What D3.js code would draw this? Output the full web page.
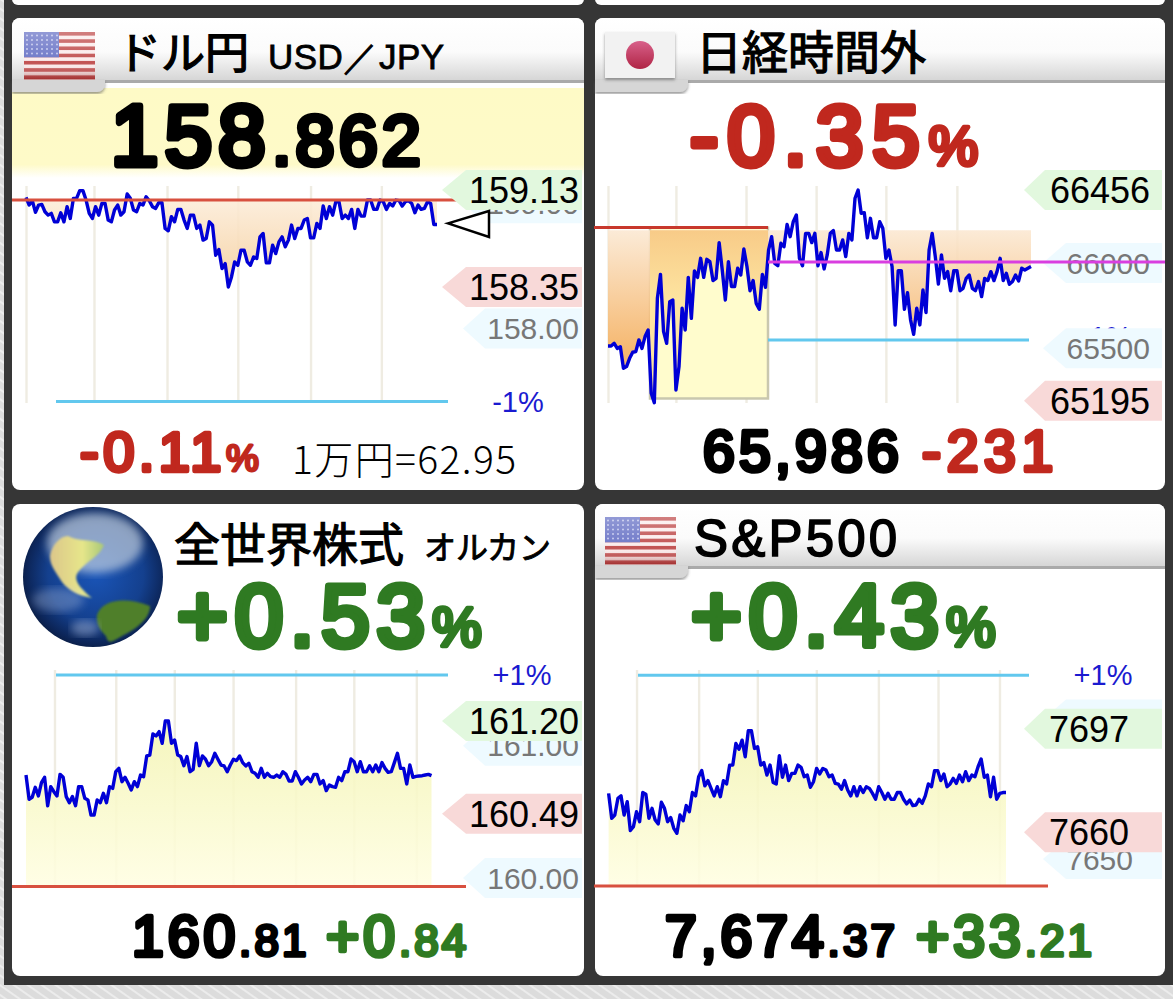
<!DOCTYPE html>
<html>
<head>
<meta charset="utf-8">
<script src="https://cdn.jsdelivr.net/npm/d3@7"></script>
<style>
  html, body { margin: 0; padding: 0; background: #ddd; }
  svg { display: block; }
  text { font-family: "Liberation Sans", sans-serif; }
</style>
</head>
<body>
<svg id="chart" width="1173" height="999"></svg>
<script>
const usdValues = [159.071,159.009,159.044,158.950,159.009,159.014,158.955,158.928,158.942,158.874,158.874,158.947,158.874,158.996,158.901,159.063,159.063,159.125,159.125,159.049,158.942,158.901,158.996,158.928,159.022,159.022,158.888,158.874,158.969,159.009,158.928,158.955,159.098,159.063,158.969,158.955,159.022,159.009,159.076,159.044,158.996,158.982,159.028,159.028,158.821,158.802,158.915,158.874,158.974,158.974,158.888,158.821,158.928,158.928,158.821,158.848,158.727,158.740,158.874,158.848,158.605,158.651,158.498,158.538,158.350,158.431,158.552,158.525,158.646,158.646,158.552,158.525,158.592,158.579,158.753,158.780,158.544,158.544,158.686,158.619,158.713,158.753,158.673,158.727,158.848,158.740,158.821,158.821,158.888,158.901,158.745,158.745,158.861,158.821,159.001,158.901,158.996,158.928,159.036,159.036,158.901,158.928,158.901,158.974,158.821,158.974,158.920,158.920,159.049,159.049,158.974,158.974,159.049,159.036,158.974,159.022,159.001,159.049,159.044,159.001,159.036,159.044,159.022,158.947,159.009,158.974,158.982,159.036,159.022,158.853,158.853];
const nikkeiValues = [65531,65531,65547,65517,65527,65399,65409,65458,65494,65498,65567,65517,65587,65626,65251,65195,65814,65956,65616,65547,65794,65804,65270,65409,65755,65626,65938,65695,65976,65938,66051,65938,66045,66031,65919,65932,66144,65982,65804,66031,65883,65883,65992,65952,66106,66002,65859,65919,65784,65749,65956,65879,66100,66179,66021,66007,66140,66120,66252,66179,66268,66308,66051,66007,66199,66199,66144,66199,66007,66085,65988,66071,66199,66215,66100,66100,66160,66061,66199,66160,66407,66456,66318,66322,66173,66288,66173,66173,66268,66229,66051,66100,66002,65656,65978,65978,65749,65847,65685,65600,65755,65656,65863,65729,66100,66199,66061,65899,66071,65932,65972,65859,65978,65978,65859,65873,65932,65952,65873,65859,65913,65824,65932,65919,65972,65919,65972,66051,65919,65962,65897,65913,65952,65917,65992,65982,65992,66002];
const globalValues = [160.795,160.613,160.628,160.703,160.638,160.738,160.778,160.565,160.708,160.67,160.638,160.80,160.778,160.633,160.588,160.633,160.565,160.708,160.708,160.62,160.608,160.495,160.495,160.608,160.588,160.658,160.588,160.708,160.695,160.82,160.845,160.745,160.778,160.733,160.683,160.745,160.708,160.795,160.783,160.938,160.945,161.103,161.088,161.12,161.033,161.2,161.2,161.033,161.058,160.945,160.933,160.865,160.933,160.82,160.838,161.033,160.865,160.938,160.913,160.865,160.895,160.958,160.913,160.87,160.863,160.82,160.87,160.913,160.903,160.938,160.888,160.863,160.883,160.82,160.808,160.778,160.845,160.778,160.808,160.783,160.778,160.795,160.778,160.82,160.80,160.75,160.75,160.82,160.778,160.728,160.758,160.778,160.745,160.80,160.80,160.728,160.753,160.678,160.72,160.708,160.703,160.778,160.753,160.82,160.82,160.915,160.895,160.82,160.895,160.82,160.82,160.865,160.82,160.87,160.82,160.888,160.845,160.815,160.82,160.888,160.958,160.845,160.845,160.728,160.87,160.778,160.785,160.788,160.79,160.795,160.80,160.79];
const spValues = [7674.4,7665.4,7666.6,7672.6,7673.5,7666.6,7671.4,7661,7662.4,7667.8,7664.2,7674.7,7674.1,7665.4,7669,7664.8,7663.4,7671.2,7669,7664.2,7665.7,7661.8,7660,7666.6,7664.5,7670,7667.8,7674.7,7673.5,7680.4,7682.6,7677.1,7679,7676.2,7673.5,7676.8,7673.2,7679,7677.8,7684.6,7684.6,7692.4,7690.3,7693.6,7687.6,7697,7697,7690.6,7691.2,7684.6,7685.5,7681,7684.6,7678.3,7677.8,7688,7680.2,7684.6,7679,7681.6,7681.6,7684.6,7683.8,7680.4,7681,7676.6,7678.6,7683.4,7681.4,7683.4,7682.8,7680.4,7681,7678,7677.7,7675.9,7679,7675.6,7673.5,7676.8,7673.5,7676.8,7674.7,7676.8,7676.2,7674.4,7672.3,7676.8,7674.7,7672.3,7674.4,7672.3,7672.3,7674.7,7674.7,7672.3,7670.6,7672,7670,7670.2,7672.3,7670.8,7673.5,7677.8,7676.8,7682.6,7682.6,7679,7681.4,7676.8,7677.8,7679.8,7678,7681,7678.6,7682.2,7679,7681,7680.4,7684,7686.8,7680.2,7681,7673.2,7680.2,7672.3,7674.4,7674.7,7674.7];

const usdGrid = [0, 21.5, 44.6, 67, 90, 112.4];
const nikkeiGrid = [0, 22, 44.7, 67.4, 90, 113];
const globalGrid = [9.2, 29, 47.9, 66.9, 87.1, 105.9, 126.1];
const spGrid = [9, 29, 47.9, 66.9, 86.9, 106.1, 125.9];

const green = "#2f7a22", red = "#c0281e", black = "#000";
const svg = d3.select("#chart");
const defs = svg.append("defs");

// hatched page behind the cards
const hatch = defs.append("pattern").attr("id", "hatch").attr("width", 8).attr("height", 8)
  .attr("patternUnits", "userSpaceOnUse").attr("patternTransform", "rotate(-55)");
hatch.append("rect").attr("width", 8).attr("height", 8).attr("fill", "#dcdcdc");
hatch.append("rect").attr("width", 2).attr("height", 8).attr("fill", "#ececec");
svg.append("rect").attr("width", 1173).attr("height", 999).attr("fill", "url(#hatch)");
svg.append("rect").attr("x", 4).attr("width", 1169).attr("height", 985).attr("fill", "#363636");

function grad(id, x1, y1, x2, y2, stops) {
  const g = defs.append("linearGradient").attr("id", id).attr("gradientUnits", "userSpaceOnUse")
    .attr("x1", x1).attr("y1", y1).attr("x2", x2).attr("y2", y2);
  stops.forEach(s => g.append("stop").attr("offset", s[0]).attr("stop-color", s[1]));
}

// rounded heavy digits: regular glyphs with a thick round stroke
function bigText(g, x, y, runs) {
  const t = g.append("text").attr("x", x).attr("y", y).attr("stroke-linejoin", "round").attr("stroke-linecap", "round");
  runs.forEach(r => {
    const c = r.color || black;
    t.append("tspan").attr("font-size", r.size).attr("fill", c).attr("stroke", c)
      .attr("stroke-width", r.size * 0.08).attr("letter-spacing", r.size * (r.ls === undefined ? 0.075 : r.ls)).text(r.text);
  });
  return t;
}

function plainText(g, x, y, str, size, family, strokeW, ls) {
  return g.append("text").attr("x", x).attr("y", y).attr("font-size", size)
    .style("font-family", family).attr("fill", black).attr("stroke", black)
    .attr("stroke-width", strokeW || 0).attr("letter-spacing", ls || 0).text(str);
}

function flagBox(g, x, y, w, h) {
  g.append("rect").attr("x", x).attr("y", y).attr("width", w).attr("height", h).attr("fill", "url(#flagShade)");
}

function usFlag(g, x, y) {
  const w = 71, h = 47, stripe = h / 13;
  d3.range(13).forEach(i => g.append("rect").attr("x", x).attr("y", y + i * stripe)
    .attr("width", w).attr("height", stripe + 0.5).attr("fill", i % 2 ? "#fbecec" : "#c25454"));
  g.append("rect").attr("x", x).attr("y", y).attr("width", 35).attr("height", stripe * 7).attr("fill", "#6e78c8");
  d3.range(5).forEach(r => d3.range(7).forEach(c => g.append("circle")
    .attr("cx", x + 3 + c * 5).attr("cy", y + 3.5 + r * 4.5).attr("r", 1).attr("fill", "#c4c9ee")));
  flagBox(g, x, y, w, h);
}

function jpFlag(g, x, y) {
  g.append("rect").attr("x", x).attr("y", y).attr("width", 70).attr("height", 46).attr("fill", "#f2f2f2").attr("filter", "url(#tabShadow)");
  grad("sun", 0, y + 9, 0, y + 37, [[0, "#d8608a"], [1, "#b02545"]]);
  g.append("circle").attr("cx", x + 35).attr("cy", y + 23).attr("r", 14).attr("fill", "url(#sun)");
}

defs.append("linearGradient").attr("id", "flagShade").attr("x1", 0).attr("y1", 0).attr("x2", 0).attr("y2", 1)
  .call(g => {
    g.append("stop").attr("offset", 0).attr("stop-color", "#fff").attr("stop-opacity", 0.25);
    g.append("stop").attr("offset", 0.65).attr("stop-color", "#fff").attr("stop-opacity", 0);
    g.append("stop").attr("offset", 1).attr("stop-color", "#700").attr("stop-opacity", 0.4);
  });

defs.append("filter").attr("id", "tabShadow").append("feDropShadow")
  .attr("dx", 0).attr("dy", 2).attr("stdDeviation", 1.5).attr("flood-color", "#555").attr("flood-opacity", 0.6);
defs.append("filter").attr("id", "soft").append("feGaussianBlur").attr("stdDeviation", 4);
defs.append("filter").attr("id", "softer").append("feGaussianBlur").attr("stdDeviation", 0.9);

function card(x, y, header) {
  const g = svg.append("g");
  const w = x < 500 ? 572 : 570, h = 472;
  g.append("rect").attr("x", x).attr("y", y).attr("width", w).attr("height", h).attr("rx", 8).attr("fill", "#fff");
  if (header) {
    const id = "band" + x + y;
    grad(id, 0, y, 0, y + 62, [[0, "#fff"], [0.55, "#fbfbfb"], [1, "#d6d6d6"]]);
    g.append("path").attr("fill", "url(#" + id + ")")
      .attr("d", `M${x} ${y + 8}a8 8 0 0 1 8 -8H${x + w - 8}a8 8 0 0 1 8 8V${y + 62}H${x}Z`);
    g.append("rect").attr("x", x).attr("y", y + 62).attr("width", w).attr("height", 3).attr("fill", "#aaa");
    g.append("path").attr("fill", "url(#" + id + ")").attr("filter", "url(#tabShadow)")
      .attr("d", `M${x} ${y + 62}H${x + 93}V${y + 66}a8 8 0 0 1 -8 8H${x}Z`);
  }
  return g;
}

function tag(g, d, yScale) {
  const cy = yScale(d.value) + (d.dy || 0);
  const h = 20;
  const item = g.append("g").attr("class", "tag");
  item.append("path").attr("fill", d.fill)
    .attr("d", `M${d.tip} ${cy}L${d.body} ${cy - h}H${d.right}V${cy + h}H${d.body}Z`);
  item.append("text").attr("x", d.textRight).attr("y", cy + d.size * 0.36)
    .attr("text-anchor", "end").attr("font-size", d.size).attr("fill", d.color).text(d.text);
}

function panel(o) {
  const g = svg.append("g");
  const x = d3.scaleLinear().domain([0, o.values.length - 1]).range(o.xRange);
  const y = d3.scaleLinear().domain(o.yDomain).range(o.yRange);

  const gridAxis = d3.axisBottom(x).tickValues(o.grid).tickSize(o.gridTop - o.gridBottom).tickFormat("");
  const axisG = g.append("g").attr("transform", `translate(0,${o.gridBottom})`).call(gridAxis);
  axisG.select(".domain").remove();
  axisG.selectAll("line").attr("stroke", "#efece2").attr("stroke-width", 2.4);

  if (o.box) {
    g.append("rect").attr("x", o.box[0]).attr("y", y(o.box[2])).attr("width", o.box[1] - o.box[0])
      .attr("height", y(o.box[3]) - y(o.box[2])).attr("fill", "#fffccd").attr("stroke", "#c9c7ae").attr("stroke-width", 2.5);
  }

  const gid = "fill" + o.id;
  grad(gid, 0, y(o.fillTop), 0, y(o.fillBottom), o.fillStops);
  const clampVal = o.fillBelow ? d => Math.min(d, o.ref) : d => Math.max(d, o.ref);
  const area = d3.area().x((d, i) => x(i)).y0(y(o.ref)).y1(d => y(clampVal(d)));
  g.append("path").datum(o.values).attr("d", area).attr("fill", `url(#${gid})`).attr("opacity", 0.88);

  if (o.box) {
    // the session box tints the fill a stronger orange
    defs.append("clipPath").attr("id", "boxClip" + o.id).append("rect")
      .attr("x", o.box[0]).attr("y", y(o.box[2])).attr("width", o.box[1] - o.box[0]).attr("height", y(o.box[3]) - y(o.box[2]));
    grad(gid + "Box", 0, y(o.fillTop), 0, y(65800), [[0, "#f8cb88"], [1, "#fde4a0"]]);
    g.append("path").datum(o.values).attr("d", area).attr("fill", `url(#${gid}Box)`).attr("clip-path", `url(#boxClip${o.id})`);
  }

  const line = d3.line().x((d, i) => x(i)).y(d => y(d));
  g.append("path").datum(o.values).attr("d", line).attr("fill", "none")
    .attr("stroke", "#0000d6").attr("stroke-width", 3.4).attr("stroke-linejoin", "round");

  const drawLine = l => g.append("line").attr("x1", l.x1).attr("x2", l.x2)
    .attr("y1", y(l.value)).attr("y2", y(l.value)).attr("stroke", l.color).attr("stroke-width", 3);
  o.hLines.filter(l => !l.over).forEach(drawLine);

  if (o.pctLabel) {
    g.append("text").attr("x", o.pctLabel.x).attr("y", o.pctLabel.y)
      .attr("text-anchor", "middle").attr("font-size", 29).attr("fill", "#1a1ad0").text(o.pctLabel.text);
  }
  o.tags.forEach(t => tag(g, t, y));
  o.hLines.filter(l => l.over).forEach(drawLine);
  return { g, x, y };
}

const tagGreen = "#e2f8de", tagRed = "#f8d9d8", tagBlue = "#eefaff", grey = "#777";
const orange = [[0, "#fcecd8"], [1, "#f5cd9a"]];
const orange2 = [[0, "#fbe8d2"], [1, "#f4ae5c"]];
const yellow = [[0, "#f3f4b4"], [1, "#fffee2"]];
const cjk = "Noto Sans CJK JP";

// ---------- USD/JPY
const usdCard = card(12, 18, true);
grad("usdBand", 0, 88, 0, 178, [[0, "#fefac6"], [0.85, "#fefac8"], [1, "#fff"]]);
usdCard.insert("rect", "path:last-of-type").attr("x", 12).attr("y", 88).attr("width", 572).attr("height", 90).attr("fill", "url(#usdBand)");
const tagsLeft = { right: 582, textRight: 579 };
const usd = panel({
  id: "usd", values: usdValues, xRange: [26, 437], yDomain: [158.35, 159.13], yRange: [287, 190],
  grid: usdGrid, gridTop: 186, gridBottom: 403, ref: 159.05, fillBelow: true, fillTop: 159.05, fillBottom: 158.35, fillStops: orange,
  hLines: [{ value: 159.05, x1: 12, x2: 466, color: "#d8503f" }, { value: 157.43, x1: 56, x2: 448, color: "#62c8ee" }],
  pctLabel: { x: 518, y: 412, text: "-1%" },
  tags: [
    { value: 159, dy: -3, text: "159.00", size: 30, color: grey, fill: tagBlue, tip: 463, body: 485, ...tagsLeft },
    { value: 159.13, text: "159.13", size: 36, color: black, fill: tagGreen, tip: 442, body: 466, ...tagsLeft },
    { value: 158.35, text: "158.35", size: 36, color: black, fill: tagRed, tip: 442, body: 466, ...tagsLeft },
    { value: 158, dy: -2, text: "158.00", size: 30, color: grey, fill: tagBlue, tip: 463, body: 485, ...tagsLeft }
  ]
});
usd.g.append("path").attr("fill", "#fff").attr("stroke", "#000").attr("stroke-width", 2.5)
  .attr("d", `M448 ${usd.y(158.862)}L489 211V237Z`);
usFlag(usdCard, 24, 32);
plainText(usdCard, 117, 69, "ドル円", 44, cjk, 1.3);
plainText(usdCard, 268, 69, "USD／JPY", 35, "Liberation Sans", 0.8, 0.5);
bigText(usd.g, 111, 165, [{ text: "158", size: 85 }, { text: ".862", size: 70, ls: 0.06 }]);
bigText(usd.g, 80, 471, [{ text: "-0.11", size: 56, color: red, ls: 0.08 }, { text: "%", size: 37, color: red, ls: 0 }]);
plainText(usd.g, 292, 474, "1万円=62.95", 39, cjk, 0, 1.4).attr("font-weight", 300);

// ---------- Nikkei
const nkCard = card(595, 18, true);
const tagsRight = { right: 1162, textRight: 1150 };
const nk = panel({
  id: "nk", values: nikkeiValues, xRange: [608, 1031], yDomain: [65195, 66456], yRange: [402.7, 190],
  grid: nikkeiGrid, gridTop: 186, gridBottom: 403, ref: 66217, fillBelow: true, fillTop: 66217, fillBottom: 65500, fillStops: orange2,
  box: [650, 768, 66233, 65220],
  hLines: [{ value: 66233, x1: 594, x2: 768, color: "#c8382c" }, { value: 66029, x1: 768, x2: 1165, color: "#d93ee0", over: true }, { value: 65567, x1: 768, x2: 1029, color: "#62c8ee" }],
  pctLabel: { x: 1106, y: 347, text: "-1%" },
  tags: [
    { value: 66456, text: "66456", size: 36, color: black, fill: tagGreen, tip: 1024, body: 1045, ...tagsRight },
    { value: 66000, dy: -4, text: "66000", size: 30, color: grey, fill: tagBlue, tip: 1043, body: 1066, ...tagsRight },
    { value: 65500, dy: -3, text: "65500", size: 30, color: grey, fill: tagBlue, tip: 1043, body: 1066, ...tagsRight },
    { value: 65195, dy: -2, text: "65195", size: 36, color: black, fill: tagRed, tip: 1024, body: 1045, ...tagsRight }
  ]
});
jpFlag(nkCard, 605, 32);
plainText(nkCard, 696, 69, "日経時間外", 46, cjk, 1.2);
bigText(nk.g, 690, 165, [{ text: "-0.35", size: 85, color: red, ls: 0.105 }, { text: "%", size: 56, color: red, ls: 0 }]);
bigText(nk.g, 703, 471, [{ text: "65,986", size: 57, ls: 0.075 }]);
bigText(nk.g, 922, 471, [{ text: "-231", size: 57, color: red, ls: 0.1 }]);

// ---------- All world equity
const glCard = card(12, 504, false);
const glG = defs.append("radialGradient").attr("id", "globe").attr("cx", "52%").attr("cy", "48%").attr("r", "55%");
[[0, "#1a55b8"], [0.62, "#14408e"], [0.9, "#0c2558"], [1, "#0a1c40"]].forEach(s => glG.append("stop").attr("offset", s[0]).attr("stop-color", s[1]));
defs.append("clipPath").attr("id", "globeClip").append("circle").attr("cx", 93).attr("cy", 577).attr("r", 70);
glCard.append("circle").attr("cx", 93).attr("cy", 577).attr("r", 70).attr("fill", "url(#globe)");
const earth = glCard.append("g").attr("clip-path", "url(#globeClip)");
earth.append("ellipse").attr("cx", 95).attr("cy", 543).attr("rx", 48).attr("ry", 30).attr("fill", "#dfe6ea").attr("opacity", 0.6).attr("filter", "url(#soft)");
grad("landN", 50, 0, 104, 0, [[0, "#dcc68a"], [0.6, "#e6e68a"], [1, "#a8c878"]]);
earth.append("path").attr("fill", "url(#landN)").attr("filter", "url(#softer)")
  .attr("d", "M50 556C52 545 60 536 68 536C78 542 92 538 104 545C100 556 88 560 78 572C74 578 76 585 92 598C78 596 68 590 62 582C56 572 50 566 50 556Z");
earth.append("path").attr("fill", "#4f7f2c").attr("filter", "url(#softer)")
  .attr("d", "M97 615C102 600 124 596 150 606C150 618 138 628 122 636C112 642 108 645 106 636C100 630 96 624 97 615Z");
earth.append("ellipse").attr("cx", 58).attr("cy", 600).attr("rx", 26).attr("ry", 12).attr("fill", "#c8d4ec").attr("opacity", 0.3).attr("filter", "url(#soft)");
earth.append("ellipse").attr("cx", 85).attr("cy", 628).attr("rx", 14).attr("ry", 8).attr("fill", "#c8d4ec").attr("opacity", 0.4).attr("filter", "url(#soft)");
plainText(glCard, 174, 561, "全世界株式", 46, cjk, 1.2);
plainText(glCard, 424, 559, "オルカン", 32, cjk, 0.9);
const gl = panel({
  id: "gl", values: globalValues, xRange: [26, 431.5], yDomain: [160.49, 161.2], yRange: [815.7, 721],
  grid: globalGrid, gridTop: 670, gridBottom: 885, ref: 159.96, fillBelow: false, fillTop: 161.2, fillBottom: 159.96, fillStops: yellow,
  hLines: [{ value: 159.96, x1: 12, x2: 466, color: "#d8503f" }, { value: 161.545, x1: 56, x2: 448, color: "#62c8ee" }],
  pctLabel: { x: 522, y: 685, text: "+1%" },
  tags: [
    { value: 161, dy: -2, text: "161.00", size: 30, color: grey, fill: tagBlue, tip: 463, body: 485, ...tagsLeft },
    { value: 161.2, text: "161.20", size: 36, color: black, fill: tagGreen, tip: 442, body: 466, ...tagsLeft },
    { value: 160.49, dy: -2, text: "160.49", size: 36, color: black, fill: tagRed, tip: 442, body: 466, ...tagsLeft },
    { value: 160, dy: -3, text: "160.00", size: 30, color: grey, fill: tagBlue, tip: 463, body: 485, ...tagsLeft }
  ]
});
bigText(gl.g, 177, 646, [{ text: "+0.53", size: 87, color: green, ls: 0.08 }, { text: "%", size: 56, color: green, ls: 0 }]);
bigText(gl.g, 132, 956, [{ text: "160", size: 57, ls: 0.07 }, { text: ".81", size: 44, ls: 0.07 }]);
bigText(gl.g, 326, 956, [{ text: "+0", size: 57, color: green, ls: 0.07 }, { text: ".84", size: 44, color: green, ls: 0.07 }]);

// ---------- S&P500
const spCard = card(595, 504, true);
const spTags = { right: 1162 };
const sp = panel({
  id: "sp", values: spValues, xRange: [608.6, 1006], yDomain: [7660, 7697], yRange: [833.3, 730.7],
  grid: spGrid, gridTop: 670, gridBottom: 885, ref: 7641, fillBelow: false, fillTop: 7697, fillBottom: 7641, fillStops: yellow,
  hLines: [{ value: 7641, x1: 594, x2: 1048, color: "#d8503f" }, { value: 7717, x1: 638, x2: 1029, color: "#62c8ee" }],
  pctLabel: { x: 1103, y: 685, text: "+1%" },
  tags: [
    { value: 7700, dy: -3, text: "7700", size: 30, color: grey, fill: tagBlue, tip: 1043, body: 1066, textRight: 1133, ...spTags },
    { value: 7650, dy: -2, text: "7650", size: 30, color: grey, fill: tagBlue, tip: 1043, body: 1066, textRight: 1133, ...spTags },
    { value: 7697, dy: -2, text: "7697", size: 36, color: black, fill: tagGreen, tip: 1024, body: 1045, textRight: 1129, ...spTags },
    { value: 7660, dy: -1, text: "7660", size: 36, color: black, fill: tagRed, tip: 1024, body: 1045, textRight: 1129, ...spTags }
  ]
});
usFlag(spCard, 605, 517);
plainText(spCard, 694, 556, "S&P500", 51, "Liberation Sans", 1.6, 3.2);
bigText(sp.g, 691, 646, [{ text: "+0.43", size: 87, color: green, ls: 0.08 }, { text: "%", size: 56, color: green, ls: 0 }]);
bigText(sp.g, 665, 956, [{ text: "7,674", size: 57, ls: 0.07 }, { text: ".37", size: 44, ls: 0.07 }]);
bigText(sp.g, 916, 956, [{ text: "+33", size: 57, color: green, ls: 0.07 }, { text: ".21", size: 44, color: green, ls: 0.07 }]);

// top edge of the row above
svg.append("rect").attr("x", 12).attr("y", -8).attr("width", 572).attr("height", 13).attr("rx", 6).attr("fill", "#fff");
svg.append("rect").attr("x", 595).attr("y", -8).attr("width", 570).attr("height", 13).attr("rx", 6).attr("fill", "#fff");
</script>
</body>
</html>
